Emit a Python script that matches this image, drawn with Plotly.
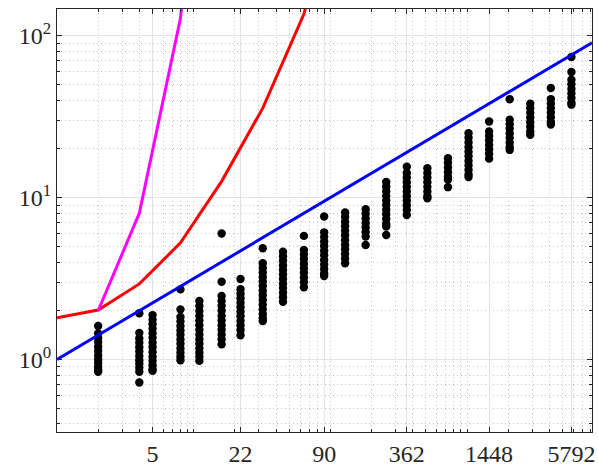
import plotly.graph_objects as go

# ---- data ----
col_x = [2, 4, 5, 8, 11, 16, 22, 32, 45, 64, 90, 128, 181, 256, 362, 512, 724,
         1024, 1448, 2048, 2896, 4096, 5792]

col_2 = [1.61, 1.45, 1.36, 1.28, 1.2, 1.13, 1.06, 1.0, 0.95, 0.9, 0.86, 0.84]
col_4 = [1.93, 1.46, 1.35, 1.27, 1.19, 1.12, 1.05, 0.99, 0.94, 0.89, 0.84, 0.72]
col_5 = [1.88, 1.76, 1.65, 1.55, 1.45, 1.36, 1.27, 1.19, 1.11, 1.04, 0.98, 0.92, 0.87, 0.85]
col_8 = [2.71, 2.04, 1.83, 1.72, 1.61, 1.51, 1.42, 1.33, 1.25, 1.17, 1.1, 1.04, 0.99]
col_11 = [2.3, 2.14, 1.99, 1.86, 1.74, 1.63, 1.52, 1.42, 1.33, 1.25, 1.17, 1.1, 1.04, 0.98]
col_16 = [6.0, 3.02, 2.47, 2.3, 2.14, 2.0, 1.86, 1.74, 1.62, 1.52, 1.42, 1.33, 1.24]
col_22 = [3.14, 2.72, 2.55, 2.39, 2.24, 2.1, 1.97, 1.85, 1.73, 1.62, 1.52, 1.41]
col_32 = [4.86, 3.93, 3.68, 3.45, 3.23, 3.03, 2.84, 2.66, 2.49, 2.33, 2.18, 2.04, 1.91, 1.8, 1.73]
col_45 = [4.63, 4.34, 4.07, 3.81, 3.57, 3.35, 3.14, 2.94, 2.76, 2.58, 2.42, 2.27]
col_64 = [5.8, 4.75, 4.45, 4.17, 3.9, 3.66, 3.43, 3.21, 3.0, 2.79]
col_90 = [7.65, 6.1, 5.72, 5.36, 5.02, 4.7, 4.4, 4.12, 3.86, 3.62, 3.4, 3.28]
col_128 = [8.1, 7.6, 7.1, 6.65, 6.23, 5.83, 5.46, 5.11, 4.79, 4.48, 4.2, 3.93]
col_181 = [8.48, 7.95, 7.44, 6.97, 6.53, 6.12, 5.74, 5.1]
col_256 = [12.5, 11.7, 10.95, 10.25, 9.6, 9.0, 8.42, 7.88, 7.38, 6.9, 6.62, 5.88]
col_362 = [15.5, 14.2, 13.3, 12.45, 11.65, 10.9, 10.2, 9.55, 8.94, 8.37, 7.8]
col_512 = [15.2, 14.2, 13.3, 12.45, 11.65, 10.9, 10.2, 9.9]
col_724 = [17.5, 16.4, 15.35, 14.35, 13.45, 12.9, 11.6]
col_1024 = [25.0, 23.4, 21.9, 20.5, 19.2, 18.0, 16.85, 15.8, 14.8, 13.9, 13.4]
col_1448 = [29.5, 25.6, 24.0, 22.5, 21.1, 19.8, 18.6, 17.4]
col_2048 = [40.5, 30.3, 28.4, 26.6, 24.9, 23.3, 21.8, 20.5, 19.7]
col_2896 = [38.0, 35.6, 33.3, 31.2, 29.2, 27.4, 25.6, 24.4]
col_4096 = [47.5, 40.6, 38.1, 35.7, 33.4, 31.3, 29.3, 28.3]
col_5792 = [73.9, 59.7, 53.5, 50.1, 46.9, 44.0, 41.2, 38.6, 37.5]

columns = [col_2, col_4, col_5, col_8, col_11, col_16, col_22, col_32, col_45,
           col_64, col_90, col_128, col_181, col_256, col_362, col_512, col_724,
           col_1024, col_1448, col_2048, col_2896, col_4096, col_5792]

blue_x = [1, 8192]
blue_y = [1.0, 90.5]

red_x = [1, 2, 4, 8, 16, 32, 64, 128]
red_y = [1.81, 2.02, 2.93, 5.25, 12.6, 35.7, 136, 1500]

magenta_x = [2, 4, 8, 16]
magenta_y = [2, 8, 128, 32768]

x_ticks = [5, 22, 90, 362, 1448, 5792]
y_ticks = [1, 10, 100]
y_ticktext = ["10<sup>0</sup>", "10<sup>1</sup>", "10<sup>2</sup>"]

x_minor = [m * 10 ** e for e in range(0, 4) for m in range(1, 10) if m * 10 ** e <= 8192]
y_minor = [m * 10 ** e for e in range(-1, 3) for m in range(1, 10) if 0.3 < m * 10 ** e < 150]

# ---- figure ----
dx, dy = [], []
for xv, col in zip(col_x, columns):
    dx += [xv] * len(col)
    dy += col

fig = go.Figure()
fig.add_trace(go.Scatter(x=dx, y=dy, mode="markers",
                         marker=dict(color="black", size=8.4, line=dict(width=0))))
fig.add_trace(go.Scatter(x=blue_x, y=blue_y, mode="lines", line=dict(color="#0000ff", width=3)))
fig.add_trace(go.Scatter(x=red_x, y=red_y, mode="lines", line=dict(color="#ff0000", width=3)))
fig.add_trace(go.Scatter(x=magenta_x, y=magenta_y, mode="lines", line=dict(color="#ff00ff", width=3)))

font = dict(family="Liberation Serif", size=24, color="#262626")
minor_common = dict(tickmode="array", ticks="inside", ticklen=3, tickcolor="#262626",
                    showgrid=True, gridcolor="#c4c4c4", griddash="1px,3px", gridwidth=1)
axis_common = dict(
    showline=True, linecolor="#262626", linewidth=1, mirror="allticks",
    ticks="inside", ticklen=5, tickcolor="#262626", tickwidth=1,
    showgrid=True, gridcolor="#e3e3e3", gridwidth=1, zeroline=False,
    tickfont=font, automargin=False,
)
fig.update_xaxes(type="log", range=[0, 3.91339], tickmode="array", tickvals=x_ticks,
                 ticktext=[str(v) for v in x_ticks],
                 minor=dict(tickvals=x_minor, **minor_common),
                 **axis_common)
fig.update_yaxes(type="log", range=[-0.448, 2.165], tickmode="array", tickvals=y_ticks,
                 ticktext=y_ticktext,
                 minor=dict(tickvals=y_minor, **minor_common),
                 **axis_common)
fig.update_layout(width=598, height=466, showlegend=False,
                  margin=dict(l=57, r=6, t=9, b=34),
                  plot_bgcolor="white", paper_bgcolor="white", font=font)
fig.write_html("out.html", config={"displayModeBar": False},
               post_script="document.body.style.margin='0';document.body.style.overflow='hidden';")
